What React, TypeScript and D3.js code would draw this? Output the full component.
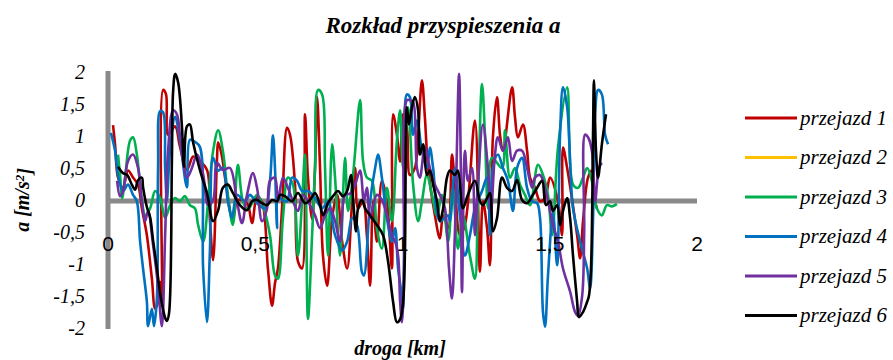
import { useEffect, useRef } from "react";
import * as d3 from "d3";

const width = 893;
const height = 360;

// droga [km], a [m/s2]
const przejazd1: [number, number][] = [
  [0.017, 1.17], [0.024, 0.87], [0.034, 0.35], [0.051, 0.19], [0.068, 0.46], [0.085, 0.35],
  [0.102, 0.24], [0.115, -0.13], [0.132, -0.55], [0.149, -1.23], [0.16, -1.7], [0.17, -1.59],
  [0.177, -1.28], [0.183, -1.59], [0.187, 1.72], [0.197, 1.65], [0.204, 1.02], [0.228, 1.15],
  [0.244, 0.84], [0.268, 0.47], [0.289, 0.68], [0.306, 0.63], [0.336, 0.47], [0.346, -0.31],
  [0.357, -0.94], [0.37, 0.63], [0.374, 0.9], [0.387, 0.68], [0.397, 0.36], [0.424, -0.31],
  [0.441, 0.0], [0.472, -0.05], [0.489, -0.36], [0.506, 0.05], [0.523, -0.03], [0.543, -1.07],
  [0.557, -1.65], [0.567, -1.3], [0.577, -1.07], [0.591, -0.13], [0.608, 1.13], [0.618, 1.02],
  [0.635, 0.24], [0.645, -0.96], [0.659, -1.07], [0.669, 1.34], [0.679, 0.35], [0.693, -0.3],
  [0.703, 0.5], [0.71, 1.61], [0.72, 0.5], [0.73, -0.87], [0.744, -1.34], [0.761, -0.28],
  [0.778, 0.08], [0.795, -0.65], [0.812, -1.07], [0.829, -0.02], [0.839, 0.5], [0.849, -0.13],
  [0.866, -0.02], [0.879, -0.55], [0.89, -1.34], [0.9, -0.02], [0.913, -0.65], [0.93, 0.3],
  [0.947, -0.02], [0.964, -1.07], [0.968, 1.34], [0.981, 1.02], [0.992, 0.6], [1.002, 1.34],
  [1.015, 1.13], [1.025, 0.39], [1.042, 0.5], [1.053, 1.02], [1.066, 1.87], [1.076, 1.29],
  [1.087, 0.5], [1.11, -0.24], [1.127, -0.6], [1.138, -0.24], [1.155, -0.44], [1.168, 0.71],
  [1.178, 0.24], [1.195, -0.55], [1.212, -0.39], [1.246, 1.24], [1.263, -1.12], [1.273, -0.02],
  [1.287, -0.44], [1.297, -1.02], [1.307, 0.98], [1.321, 1.61], [1.331, 1.02], [1.341, 0.77],
  [1.372, 1.76], [1.382, 1.29], [1.392, 0.98], [1.409, 1.18], [1.423, 0.77], [1.433, 0.35],
  [1.45, 0.19], [1.467, -0.02], [1.484, 0.03], [1.501, 0.35], [1.528, -0.02], [1.542, -0.55],
  [1.545, 0.82], [1.559, 0.5], [1.593, -0.55], [1.603, -0.91], [1.613, -0.33], [1.63, 0.35],
  [1.643, 0.46], [1.654, -0.02], [1.66, -0.13],
];

const przejazd2: [number, number][] = [];

const przejazd3: [number, number][] = [
  [0.034, 0.71], [0.041, 0.39], [0.048, 0.03], [0.058, 0.35], [0.075, 0.93], [0.085, 0.98],
  [0.098, 0.71], [0.115, 0.0], [0.126, -0.24], [0.143, -0.13], [0.16, 0.14], [0.177, 0.03],
  [0.194, -0.28], [0.211, -0.08], [0.228, 0.03], [0.244, -0.02], [0.261, 0.06], [0.278, -0.08],
  [0.295, -0.13], [0.306, -0.39], [0.323, -0.65], [0.34, -0.02], [0.357, 0.77], [0.374, 1.09],
  [0.39, 0.77], [0.407, 0.08], [0.424, -0.39], [0.441, 0.55], [0.458, -0.02], [0.475, -0.15],
  [0.506, 0.08], [0.53, -0.15], [0.55, -0.55], [0.567, -1.18], [0.577, -1.23], [0.594, -0.28],
  [0.611, 0.35], [0.628, 0.24], [0.645, -0.87], [0.659, -0.02], [0.669, 0.71], [0.679, -1.86],
  [0.693, -0.55], [0.703, 0.5], [0.713, 1.72], [0.727, 1.65], [0.737, 0.5], [0.747, -0.87],
  [0.761, 0.87], [0.771, 0.35], [0.788, -0.87], [0.805, 0.66], [0.815, -0.17], [0.832, 0.39],
  [0.856, 1.56], [0.866, 0.61], [0.879, 0.35], [0.896, 0.3], [0.913, -0.44], [0.93, -0.76],
  [0.947, 0.19], [0.964, -0.33], [0.981, 0.93], [0.992, 1.4], [1.002, 0.5], [1.019, 1.45],
  [1.036, 0.24], [1.053, -0.33], [1.066, -0.02], [1.083, 0.39], [1.1, 0.08], [1.117, -0.24],
  [1.134, 0.08], [1.155, -0.65], [1.171, 0.19], [1.188, -0.76], [1.205, -0.24], [1.229, -0.87],
  [1.246, -1.23], [1.256, -0.02], [1.27, 1.81], [1.28, 1.02], [1.29, -0.13], [1.304, 0.66],
  [1.338, 0.5], [1.348, 1.09], [1.365, 0.35], [1.382, 0.5], [1.399, 0.24], [1.416, 0.08],
  [1.433, -0.08], [1.46, 0.55], [1.477, 0.39], [1.494, 0.08], [1.508, -0.55], [1.528, 0.82],
  [1.559, 1.76], [1.579, 0.24], [1.596, 0.19], [1.613, 0.35], [1.627, 0.5], [1.643, 0.3],
  [1.66, -0.13], [1.677, -0.24], [1.694, -0.08], [1.711, -0.1], [1.728, -0.06],
];

const przejazd4: [number, number][] = [
  [0.01, 1.05], [0.024, 0.77], [0.034, 0.39], [0.051, 0.14], [0.068, 0.24], [0.085, 0.08],
  [0.098, -0.02], [0.109, -0.65], [0.119, -1.07], [0.132, -1.59], [0.136, -1.97], [0.149, -1.7],
  [0.156, -1.97], [0.166, -1.54], [0.17, 0.5], [0.177, 1.39], [0.187, 1.37], [0.194, 0.5],
  [0.2, 0.0], [0.211, 0.8], [0.228, 1.3], [0.244, 0.94], [0.268, 0.2], [0.278, 0.94],
  [0.295, 0.91], [0.312, 0.83], [0.323, -1.07], [0.336, -1.91], [0.346, -0.8], [0.357, 0.66],
  [0.374, 0.46], [0.39, 0.5], [0.407, -0.02], [0.421, -0.28], [0.438, 0.08], [0.465, -0.02],
  [0.482, 0.08], [0.506, -0.05], [0.533, -0.13], [0.55, 0.3], [0.56, 1.01], [0.567, 0.5],
  [0.574, -0.44], [0.577, 0.08], [0.591, 0.0], [0.608, -0.02], [0.625, 0.35], [0.642, 0.3],
  [0.659, 0.14], [0.679, 0.14], [0.703, 0.03], [0.727, -0.13], [0.747, -0.02], [0.771, -0.55],
  [0.795, -0.79], [0.812, -0.65], [0.829, -0.28], [0.846, -0.4], [0.862, -1.12], [0.869, -1.18],
  [0.89, -0.02], [0.907, 0.5], [0.917, 0.71], [0.93, 0.35], [0.947, -0.28], [0.964, -0.65],
  [0.975, -0.44], [0.985, -1.07], [0.998, -1.5], [1.002, -1.7], [1.008, 0.5], [1.015, 1.65],
  [1.025, 1.61], [1.036, 1.02], [1.049, 1.24], [1.066, 0.77], [1.083, 0.5], [1.093, 0.82],
  [1.104, 0.5], [1.127, -0.33], [1.155, -0.24], [1.161, -0.33], [1.178, 0.5], [1.195, -0.24],
  [1.212, -0.87], [1.229, -0.55], [1.246, -0.13], [1.27, 0.14], [1.287, 0.35], [1.297, -0.55],
  [1.307, 0.5], [1.324, 0.71], [1.341, 0.5], [1.358, 0.3], [1.375, -0.17], [1.389, 0.5],
  [1.406, 0.66], [1.423, 0.19], [1.44, -0.02], [1.457, -0.05], [1.467, -0.28], [1.477, -1.75],
  [1.484, -1.98], [1.494, -1.18], [1.511, -0.2], [1.525, -1.02], [1.535, 1.02], [1.545, 1.76],
  [1.559, 1.45], [1.572, 0.3], [1.579, -0.13], [1.603, -0.65], [1.627, -1.07], [1.637, -1.39],
  [1.647, -0.3], [1.654, 1.34], [1.664, 1.72], [1.677, 1.65], [1.688, 1.02], [1.698, 0.87],
];

const przejazd5: [number, number][] = [
  [0.031, 0.3], [0.041, 0.06], [0.051, 0.14], [0.068, 0.61], [0.085, 0.71], [0.102, 0.5],
  [0.115, -0.02], [0.126, -0.33], [0.136, -0.17], [0.153, -0.7], [0.17, -1.34], [0.183, -1.97],
  [0.194, -0.55], [0.204, 0.77], [0.221, 1.4], [0.234, 1.34], [0.244, 1.02], [0.255, 0.61],
  [0.268, 0.35], [0.285, 0.5], [0.302, 0.71], [0.323, 0.4], [0.34, -0.08], [0.357, 0.0],
  [0.37, 0.58], [0.39, 0.47], [0.414, 0.5], [0.438, -0.02], [0.455, -0.36], [0.472, 0.08],
  [0.492, 0.42], [0.506, 0.19], [0.523, -0.33], [0.54, -0.13], [0.55, 0.3], [0.567, 0.35],
  [0.577, -0.02], [0.594, 0.35], [0.611, 0.19], [0.628, -0.02], [0.645, -0.17], [0.662, 0.08],
  [0.686, -0.08], [0.703, -0.24], [0.72, -0.44], [0.737, -0.24], [0.754, -0.13], [0.771, -0.33],
  [0.788, -0.65], [0.805, 0.08], [0.822, 0.1], [0.839, 0.24], [0.856, 0.46], [0.869, -0.02],
  [0.879, 0.19], [0.89, -0.28], [0.913, 0.08], [0.93, 0.0], [0.947, -0.24], [0.964, -0.55],
  [0.975, -0.65], [0.985, -0.87], [0.992, -1.59], [0.998, -1.91], [1.005, -1.07], [1.015, 1.56],
  [1.025, 1.56], [1.036, 1.53], [1.049, 0.5], [1.059, 0.35], [1.076, 0.82], [1.093, 0.5],
  [1.11, 0.24], [1.127, 0.08], [1.144, -0.13], [1.158, -1.07], [1.168, -1.54], [1.178, -0.5],
  [1.192, 1.97], [1.198, 0.5], [1.202, -1.44], [1.212, 0.77], [1.222, 0.3], [1.236, 0.5],
  [1.246, -0.55], [1.256, 0.24], [1.273, 1.18], [1.29, 0.5], [1.3, -0.2], [1.314, 0.71],
  [1.324, 0.98], [1.341, 0.77], [1.358, 0.98], [1.372, 0.61], [1.389, 0.77], [1.406, 0.77],
  [1.423, 0.5], [1.44, 0.19], [1.45, 0.35], [1.467, 0.39], [1.484, 0.19], [1.511, -0.39],
  [1.528, -0.65], [1.545, -1.07], [1.569, -1.43], [1.586, -1.75], [1.596, -1.81], [1.61, -1.5],
  [1.617, -0.5], [1.62, 1.02], [1.63, 0.98], [1.643, 0.77], [1.654, -0.02], [1.667, 0.5],
  [1.677, 0.58],
];

const przejazd6: [number, number][] = [
  [0.034, 0.52], [0.051, 0.42], [0.065, 0.39], [0.081, 0.24], [0.092, 0.16], [0.102, 0.31],
  [0.115, 0.35], [0.119, 0.2], [0.132, -0.11], [0.143, -0.27], [0.153, -0.63], [0.166, -1.06],
  [0.177, -1.46], [0.194, -1.84], [0.2, -1.89], [0.207, -1.78], [0.217, 0.63], [0.221, 1.69],
  [0.228, 1.97], [0.238, 1.84], [0.251, 1.15], [0.258, 0.52], [0.268, 1.15], [0.278, 1.18],
  [0.289, 0.9], [0.312, 0.47], [0.336, 0.11], [0.357, -0.33], [0.374, -0.16], [0.39, 0.19],
  [0.407, 0.24], [0.424, 0.11], [0.448, -0.08], [0.472, -0.16], [0.489, -0.02], [0.506, 0.0],
  [0.523, -0.05], [0.54, -0.08], [0.557, 0.0], [0.574, -0.02], [0.584, 0.08], [0.601, 0.06],
  [0.625, -0.02], [0.645, 0.11], [0.669, -0.05], [0.686, 0.0], [0.703, 0.11], [0.72, -0.08],
  [0.73, -0.24], [0.747, -0.05], [0.764, 0.06], [0.781, 0.14], [0.798, 0.06], [0.812, 0.14],
  [0.825, 0.39], [0.832, 0.03], [0.842, -0.49], [0.849, -0.13], [0.862, 0.0], [0.873, -0.13],
  [0.89, -0.24], [0.913, -0.39], [0.934, -0.55], [0.951, -0.96], [0.968, -1.59], [0.981, -1.91],
  [0.992, -1.86], [1.002, -1.59], [1.008, -0.87], [1.015, 1.45], [1.022, 1.18], [1.032, 1.45],
  [1.042, 1.61], [1.053, 1.4], [1.059, 0.71], [1.07, 0.87], [1.083, 0.39], [1.093, 0.46],
  [1.104, 0.24], [1.117, -0.02], [1.127, -0.33], [1.138, -0.13], [1.151, 0.35], [1.161, 0.46],
  [1.178, 0.39], [1.188, 0.46], [1.205, -0.13], [1.222, 0.08], [1.246, 0.3], [1.263, -0.02],
  [1.273, -0.08], [1.287, 0.03], [1.297, 0.11], [1.307, -0.49], [1.321, -0.28], [1.338, 0.35],
  [1.355, 0.19], [1.372, 0.14], [1.389, 0.31], [1.406, 0.0], [1.423, -0.05], [1.44, 0.06],
  [1.457, 0.19], [1.474, 0.3], [1.487, -0.08], [1.501, -0.02], [1.511, -0.17], [1.525, -0.08],
  [1.535, -0.39], [1.545, -0.17], [1.559, 0.03], [1.569, -0.28], [1.579, -0.87], [1.593, -1.59],
  [1.599, -1.83], [1.613, -1.75], [1.627, -1.59], [1.633, -1.5], [1.64, -1.07], [1.647, 1.02],
  [1.65, 1.87], [1.657, 0.77], [1.664, 0.35], [1.677, 0.87], [1.691, 1.34],
];

const seriesNames = ["przejazd 1", "przejazd 2", "przejazd 3", "przejazd 4", "przejazd 5", "przejazd 6"];
const seriesColors = ["#c00000", "#ffc000", "#00b050", "#0070c0", "#7030a0", "#000000"];
const seriesData = [przejazd1, przejazd2, przejazd3, przejazd4, przejazd5, przejazd6];

const xTicks = [0, 0.5, 1, 1.5, 2];
const yTicks = [2, 1.5, 1, 0.5, 0, -0.5, -1, -1.5, -2];

const serif = "'Liberation Serif', 'Times New Roman', serif";
const sans = "'Liberation Sans', Arial, sans-serif";

const commaFormat = (d: number) => String(d).replace(".", ",");

export default function App() {
  const svgRef = useRef<SVGSVGElement | null>(null);

  useEffect(() => {
    if (!svgRef.current) return;
    const svg = d3.select(svgRef.current);
    svg.selectAll("*").remove();

    const x = d3.scaleLinear().domain([0, 2]).range([108, 697]);
    const y = d3.scaleLinear().domain([-2, 2]).range([328, 72]);

    // tytuł
    svg
      .append("text")
      .attr("x", 443)
      .attr("y", 33)
      .attr("text-anchor", "middle")
      .attr("font-family", serif)
      .attr("font-size", 23)
      .attr("font-weight", 700)
      .attr("font-style", "italic")
      .text("Rozkład przyspieszenia a");

    // etykiety osi y
    svg
      .append("g")
      .selectAll("text")
      .data(yTicks)
      .join("text")
      .attr("x", 85)
      .attr("y", (d) => y(d))
      .attr("dy", "0.35em")
      .attr("text-anchor", "end")
      .attr("font-family", serif)
      .attr("font-size", 20)
      .attr("font-style", "italic")
      .text(commaFormat);

    // osie
    svg
      .append("line")
      .attr("x1", x(0))
      .attr("x2", x(0))
      .attr("y1", y(2) - 1)
      .attr("y2", y(-2) + 1)
      .attr("stroke", "#898989")
      .attr("stroke-width", 5);

    svg
      .append("line")
      .attr("x1", x(0))
      .attr("x2", x(2))
      .attr("y1", y(0) + 1)
      .attr("y2", y(0) + 1)
      .attr("stroke", "#898989")
      .attr("stroke-width", 5);

    // serie
    const line = d3
      .line<[number, number]>()
      .x((d) => x(d[0]))
      .y((d) => y(d[1]))
      .curve(d3.curveCatmullRom.alpha(0.5));

    svg
      .append("g")
      .selectAll("path")
      .data(seriesData)
      .join("path")
      .attr("d", (d) => (d.length ? line(d) : null))
      .attr("fill", "none")
      .attr("stroke", (_, i) => seriesColors[i])
      .attr("stroke-width", 2.6)
      .attr("stroke-linejoin", "round");

    // etykiety osi x
    svg
      .append("g")
      .selectAll("text")
      .data(xTicks)
      .join("text")
      .attr("x", (d) => x(d))
      .attr("y", 251)
      .attr("text-anchor", "middle")
      .attr("font-family", sans)
      .attr("font-size", 21)
      .text(commaFormat);

    // tytuły osi
    svg
      .append("text")
      .attr("x", 400)
      .attr("y", 355)
      .attr("text-anchor", "middle")
      .attr("font-family", serif)
      .attr("font-size", 20)
      .attr("font-weight", 700)
      .attr("font-style", "italic")
      .text("droga [km]");

    const yTitle = svg
      .append("text")
      .attr("transform", "translate(29, 200) rotate(-90)")
      .attr("text-anchor", "middle")
      .attr("font-family", serif)
      .attr("font-size", 20)
      .attr("font-weight", 700)
      .attr("font-style", "italic");
    yTitle.append("tspan").text("a [m/s");
    yTitle.append("tspan").attr("dy", "-0.4em").attr("font-size", 13).text("2");
    yTitle.append("tspan").attr("dy", "0.4em").text("]");

    // legenda
    const legend = svg
      .append("g")
      .selectAll("g")
      .data(seriesNames)
      .join("g")
      .attr("transform", (_, i) => `translate(745, ${118 + i * 39.5})`);

    legend
      .append("line")
      .attr("x1", 0)
      .attr("x2", 52)
      .attr("stroke", (_, i) => seriesColors[i])
      .attr("stroke-width", 3);

    legend
      .append("text")
      .attr("x", 55)
      .attr("dy", "0.32em")
      .attr("font-family", serif)
      .attr("font-size", 21)
      .attr("font-style", "italic")
      .text((d) => d);
  }, []);

  return (
    <svg
      ref={svgRef}
      width={width}
      height={height}
      viewBox={`0 0 ${width} ${height}`}
      style={{ position: "absolute", left: 0, top: 0, background: "#fff" }}
    />
  );
}
